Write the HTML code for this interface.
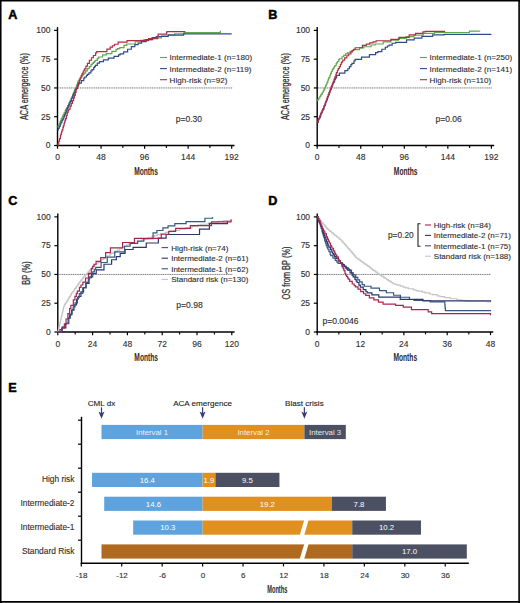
<!DOCTYPE html><html><head><meta charset="utf-8"><style>html,body{margin:0;padding:0;background:#fff;overflow:hidden;}svg{display:block;}</style></head><body>
<svg width="520" height="603" viewBox="0 0 520 603" font-family='"Liberation Sans", sans-serif'>
<rect x="0" y="0" width="520" height="603" fill="#fff"/>
<text x="8.2" y="18.9" font-size="12.6" text-anchor="start" fill="#000" font-weight="bold" stroke="#000" stroke-width="0.5">A</text>
<text x="268.2" y="18.9" font-size="12.6" text-anchor="start" fill="#000" font-weight="bold" stroke="#000" stroke-width="0.5">B</text>
<text x="8.2" y="205" font-size="12.6" text-anchor="start" fill="#000" font-weight="bold" stroke="#000" stroke-width="0.5">C</text>
<text x="268.2" y="205" font-size="12.6" text-anchor="start" fill="#000" font-weight="bold" stroke="#000" stroke-width="0.5">D</text>
<text x="8.2" y="392" font-size="12.6" text-anchor="start" fill="#000" font-weight="bold" stroke="#000" stroke-width="0.5">E</text>
<path d="M57.5 146.2 L57.5 27.1" stroke="#000" stroke-width="1.4" fill="none" />
<path d="M56.8 145.5 L234.5 145.5" stroke="#000" stroke-width="1.4" fill="none" />
<path d="M54.1 145.5 L57.5 145.5" stroke="#000" stroke-width="1.2" fill="none" />
<text x="50.4" y="148.3" font-size="8.5" text-anchor="end" fill="#2e2e2e" font-weight="normal"  stroke="#2e2e2e" stroke-width="0.12">0</text>
<path d="M54.1 116.72 L57.5 116.72" stroke="#000" stroke-width="1.2" fill="none" />
<text x="50.4" y="119.52" font-size="8.5" text-anchor="end" fill="#2e2e2e" font-weight="normal"  stroke="#2e2e2e" stroke-width="0.12">25</text>
<path d="M54.1 87.95 L57.5 87.95" stroke="#000" stroke-width="1.2" fill="none" />
<text x="50.4" y="90.75" font-size="8.5" text-anchor="end" fill="#2e2e2e" font-weight="normal"  stroke="#2e2e2e" stroke-width="0.12">50</text>
<path d="M54.1 59.17 L57.5 59.17" stroke="#000" stroke-width="1.2" fill="none" />
<text x="50.4" y="61.97" font-size="8.5" text-anchor="end" fill="#2e2e2e" font-weight="normal"  stroke="#2e2e2e" stroke-width="0.12">75</text>
<path d="M54.1 30.4 L57.5 30.4" stroke="#000" stroke-width="1.2" fill="none" />
<text x="50.4" y="33.2" font-size="8.5" text-anchor="end" fill="#2e2e2e" font-weight="normal"  stroke="#2e2e2e" stroke-width="0.12">100</text>
<path d="M57.5 145.5 L57.5 148.7" stroke="#000" stroke-width="1.2" fill="none" />
<text x="57.5" y="160" font-size="8.5" text-anchor="middle" fill="#2e2e2e" font-weight="normal"  stroke="#2e2e2e" stroke-width="0.12">0</text>
<path d="M101.05 145.5 L101.05 148.7" stroke="#000" stroke-width="1.2" fill="none" />
<text x="101.05" y="160" font-size="8.5" text-anchor="middle" fill="#2e2e2e" font-weight="normal"  stroke="#2e2e2e" stroke-width="0.12">48</text>
<path d="M144.6 145.5 L144.6 148.7" stroke="#000" stroke-width="1.2" fill="none" />
<text x="144.6" y="160" font-size="8.5" text-anchor="middle" fill="#2e2e2e" font-weight="normal"  stroke="#2e2e2e" stroke-width="0.12">96</text>
<path d="M188.15 145.5 L188.15 148.7" stroke="#000" stroke-width="1.2" fill="none" />
<text x="188.15" y="160" font-size="8.5" text-anchor="middle" fill="#2e2e2e" font-weight="normal"  stroke="#2e2e2e" stroke-width="0.12">144</text>
<path d="M231.7 145.5 L231.7 148.7" stroke="#000" stroke-width="1.2" fill="none" />
<text x="231.7" y="160" font-size="8.5" text-anchor="middle" fill="#2e2e2e" font-weight="normal"  stroke="#2e2e2e" stroke-width="0.12">192</text>
<path d="M79.28 145.5 L79.28 147.9" stroke="#000" stroke-width="1.1" fill="none" />
<path d="M122.82 145.5 L122.82 147.9" stroke="#000" stroke-width="1.1" fill="none" />
<path d="M166.38 145.5 L166.38 147.9" stroke="#000" stroke-width="1.1" fill="none" />
<path d="M209.92 145.5 L209.92 147.9" stroke="#000" stroke-width="1.1" fill="none" />
<path d="M58.2 87.95 L232.2 87.95" stroke="#6a6a6a" stroke-width="0.9" fill="none" stroke-dasharray="1.2 0.6"/>
<text x="146" y="174.8" font-size="10.4" text-anchor="middle" fill="#2a2a2a" font-weight="bold" textLength="23.7" lengthAdjust="spacingAndGlyphs">Months</text>
<text transform="translate(28.4 86.55) rotate(-90)" x="0" y="0" font-size="10" text-anchor="middle" fill="#2a2a2a" stroke="#2a2a2a" stroke-width="0.22" textLength="67" lengthAdjust="spacingAndGlyphs">ACA emergence (%)</text>
<path d="M57.5 127.08 L58.18 127.08 L58.18 125.6 L58.95 125.6 L58.95 123.92 L59.95 123.92 L59.95 121.74 L60.63 121.74 L60.63 120.26 L61.36 120.26 L61.36 118.68 L62.13 118.68 L62.13 116.99 L62.63 116.99 L62.63 115.91 L63.35 115.91 L63.35 114.33 L64.21 114.33 L64.21 112.61 L65.21 112.61 L65.21 110.62 L65.67 110.62 L65.67 109.71 L66.3 109.71 L66.3 108.44 L66.75 108.44 L66.75 107.53 L67.75 107.53 L67.75 105.54 L68.66 105.54 L68.66 103.73 L69.07 103.73 L69.07 102.91 L70.2 102.91 L70.2 100.65 L71.2 100.65 L71.2 98.42 L71.97 98.42 L71.97 96.61 L72.7 96.61 L72.7 94.9 L73.15 94.9 L73.15 93.83 L73.51 93.83 L73.51 92.97 L74.19 92.97 L74.19 91.37 L74.56 91.37 L74.56 90.52 L75.01 90.52 L75.01 89.45 L75.51 89.45 L75.51 88.27 L75.83 88.27 L75.83 87.43 L76.37 87.43 L76.37 85.89 L76.87 85.89 L76.87 84.47 L77.6 84.47 L77.6 82.4 L78.14 82.4 L78.14 80.86 L79.32 80.86 L79.32 79.09 L80.5 79.09 L80.5 77.54 L81.86 77.54 L81.86 75.74 L82.95 75.74 L82.95 74.31 L83.86 74.31 L83.86 73.11 L85.58 73.11 L85.58 70.84 L87.3 70.84 L87.3 68.56 L89.26 68.56 L89.26 66.54 L91.07 66.54 L91.07 64.71 L92.29 64.71 L92.29 63.47 L93.38 63.47 L93.38 62.36 L94.56 62.36 L94.56 61.17 L95.42 61.17 L95.42 60.3 L97.33 60.3 L97.33 58.37 L98.69 58.37 L98.69 56.99 L102.64 56.99 L102.64 54.97 L106.36 54.97 L106.36 53.63 L111.85 53.63 L111.85 51.43 L116.02 51.43 L116.02 49.4 L117.56 49.4 L117.56 48.65 L119.79 48.65 L119.79 47.57 L123.96 47.57 L123.96 45.44 L126.77 45.44 L126.77 43.98 L135.16 43.98 L135.16 41.76 L140.65 41.76 L140.65 40.41 L144.01 40.41 L144.01 39.54 L151.4 39.54 L151.4 37.85 L161.48 37.85 L161.48 35.94 L168.05 35.94 L168.05 34.78 L174.68 34.78 L174.68 33.9 L184.07 33.9 L184.07 32.65 L220.36 32.65 L220.36 30.86 L220.36 30.86" stroke="#5fa84e" stroke-width="1.2" fill="none"/>
<path d="M57.5 129.96 L58.32 129.96 L58.32 128.26 L59.31 128.26 L59.31 126.18 L60.31 126.18 L60.31 124.11 L60.86 124.11 L60.86 122.97 L61.31 122.97 L61.31 122.03 L62.04 122.03 L62.04 120.52 L62.72 120.52 L62.72 119.1 L63.76 119.1 L63.76 116.79 L64.62 116.79 L64.62 114.73 L65.44 114.73 L65.44 112.78 L66.21 112.78 L66.21 110.94 L67.07 110.94 L67.07 108.88 L67.57 108.88 L67.57 107.69 L68.25 107.69 L68.25 106.07 L68.75 106.07 L68.75 104.88 L69.79 104.88 L69.79 102.42 L70.25 102.42 L70.25 101.39 L71.29 101.39 L71.29 99.01 L71.74 99.01 L71.74 97.98 L72.65 97.98 L72.65 95.92 L73.29 95.92 L73.29 94.47 L74.01 94.47 L74.01 92.82 L75.06 92.82 L75.06 90.44 L75.46 90.44 L75.46 89.51 L76.01 89.51 L76.01 88.49 L77.46 88.49 L77.46 86.03 L78.5 86.03 L78.5 84.27 L79.14 84.27 L79.14 83.19 L81.32 83.19 L81.32 80.58 L83.81 80.58 L83.81 78.05 L84.85 78.05 L84.85 76.99 L86.44 76.99 L86.44 75.38 L87.53 75.38 L87.53 74.28 L88.94 74.28 L88.94 72.85 L90.89 72.85 L90.89 70.87 L92.02 70.87 L92.02 69.71 L93.7 69.71 L93.7 67.61 L94.47 67.61 L94.47 66.65 L95.42 66.65 L95.42 65.46 L97.28 65.46 L97.28 63.13 L99.51 63.13 L99.51 61.57 L103.41 61.57 L103.41 59.97 L108.31 59.97 L108.31 58.07 L114.02 58.07 L114.02 56.39 L118.52 56.39 L118.52 54.86 L120.06 54.86 L120.06 53.93 L123.64 53.93 L123.64 51.8 L127.63 51.8 L127.63 49.24 L131.4 49.24 L131.4 46.67 L134.85 46.67 L134.85 44.65 L138.16 44.65 L138.16 43.16 L141.52 43.16 L141.52 41.65 L146.14 41.65 L146.14 39.58 L152.77 39.58 L152.77 37.55 L156.26 37.55 L156.26 36.48 L168.19 36.48 L168.19 35.2 L183.61 35.2 L183.61 33.85 L231.7 33.85" stroke="#2f4c8a" stroke-width="1.2" fill="none"/>
<path d="M57.5 145.5 L58 145.5 L58 143.83 L58.77 143.83 L58.77 141.26 L59.54 141.26 L59.54 138.68 L60.4 138.68 L60.4 135.8 L60.86 135.8 L60.86 134.28 L61.31 134.28 L61.31 132.77 L61.72 132.77 L61.72 131.4 L62.17 131.4 L62.17 129.89 L62.94 129.89 L62.94 127.31 L63.35 127.31 L63.35 125.95 L64.03 125.95 L64.03 123.68 L64.49 123.68 L64.49 122.16 L64.99 122.16 L64.99 120.5 L65.57 120.5 L65.57 118.53 L66.44 118.53 L66.44 115.65 L67.16 115.65 L67.16 113.22 L67.53 113.22 L67.53 112.15 L68.25 112.15 L68.25 110.45 L68.84 110.45 L68.84 109.08 L70.07 109.08 L70.07 106.22 L71.25 106.22 L71.25 103.46 L72.42 103.46 L72.42 100.71 L73.6 100.71 L73.6 97.95 L74.38 97.95 L74.38 95.37 L75.28 95.37 L75.28 92.28 L76.1 92.28 L76.1 89.5 L76.6 89.5 L76.6 87.82 L77.64 87.82 L77.64 84.91 L78.41 84.91 L78.41 82.75 L79.37 82.75 L79.37 80.08 L80.18 80.08 L80.18 77.8 L81.04 77.8 L81.04 75.79 L81.95 75.79 L81.95 73.97 L82.95 73.97 L82.95 71.98 L83.81 71.98 L83.81 70.25 L84.49 70.25 L84.49 68.89 L85.9 68.89 L85.9 66.08 L87.44 66.08 L87.44 63.38 L89.35 63.38 L89.35 60.25 L91.48 60.25 L91.48 57.74 L93.38 57.74 L93.38 55.51 L95.61 55.51 L95.61 52.9 L96.74 52.9 L96.74 51.57 L106.95 51.57 L106.95 49.13 L110.21 49.13 L110.21 47.16 L112.44 47.16 L112.44 45.75 L114.52 45.75 L114.52 44.27 L118.11 44.27 L118.11 42.15 L127.04 42.15 L127.04 40.58 L148.55 40.58 L148.55 38.6 L157.76 38.6 L157.76 36.21 L158.16 36.21 L158.16 34.19 L166.6 34.19 L166.6 32.7 L166.83 32.7 L166.83 31.55 L185.43 31.55" stroke="#b02e45" stroke-width="1.2" fill="none"/>
<path d="M160 57.5 L167 57.5" stroke="#5fa84e" stroke-width="1.1" fill="none" />
<text x="169.6" y="60.4" font-size="8.1" text-anchor="start" fill="#2e2e2e" font-weight="normal"  stroke="#2e2e2e" stroke-width="0.12">Intermediate-1 (n=180)</text>
<path d="M160 68.6 L167 68.6" stroke="#2f4c8a" stroke-width="1.1" fill="none" />
<text x="169.6" y="71.5" font-size="8.1" text-anchor="start" fill="#2e2e2e" font-weight="normal"  stroke="#2e2e2e" stroke-width="0.12">Intermediate-2 (n=119)</text>
<path d="M160 79.7 L167 79.7" stroke="#b02e45" stroke-width="1.1" fill="none" />
<text x="169.6" y="82.6" font-size="8.1" text-anchor="start" fill="#2e2e2e" font-weight="normal"  stroke="#2e2e2e" stroke-width="0.12">High-risk (n=92)</text>
<text x="175.8" y="121.6" font-size="8.5" text-anchor="start" fill="#2e2e2e" font-weight="normal"  stroke="#2e2e2e" stroke-width="0.12">p=0.30</text>
<path d="M317.2 146.2 L317.2 27.1" stroke="#000" stroke-width="1.4" fill="none" />
<path d="M316.5 145.5 L494.2 145.5" stroke="#000" stroke-width="1.4" fill="none" />
<path d="M313.8 145.5 L317.2 145.5" stroke="#000" stroke-width="1.2" fill="none" />
<text x="310.1" y="148.3" font-size="8.5" text-anchor="end" fill="#2e2e2e" font-weight="normal"  stroke="#2e2e2e" stroke-width="0.12">0</text>
<path d="M313.8 116.72 L317.2 116.72" stroke="#000" stroke-width="1.2" fill="none" />
<text x="310.1" y="119.52" font-size="8.5" text-anchor="end" fill="#2e2e2e" font-weight="normal"  stroke="#2e2e2e" stroke-width="0.12">25</text>
<path d="M313.8 87.95 L317.2 87.95" stroke="#000" stroke-width="1.2" fill="none" />
<text x="310.1" y="90.75" font-size="8.5" text-anchor="end" fill="#2e2e2e" font-weight="normal"  stroke="#2e2e2e" stroke-width="0.12">50</text>
<path d="M313.8 59.17 L317.2 59.17" stroke="#000" stroke-width="1.2" fill="none" />
<text x="310.1" y="61.97" font-size="8.5" text-anchor="end" fill="#2e2e2e" font-weight="normal"  stroke="#2e2e2e" stroke-width="0.12">75</text>
<path d="M313.8 30.4 L317.2 30.4" stroke="#000" stroke-width="1.2" fill="none" />
<text x="310.1" y="33.2" font-size="8.5" text-anchor="end" fill="#2e2e2e" font-weight="normal"  stroke="#2e2e2e" stroke-width="0.12">100</text>
<path d="M317.2 145.5 L317.2 148.7" stroke="#000" stroke-width="1.2" fill="none" />
<text x="317.2" y="160" font-size="8.5" text-anchor="middle" fill="#2e2e2e" font-weight="normal"  stroke="#2e2e2e" stroke-width="0.12">0</text>
<path d="M360.75 145.5 L360.75 148.7" stroke="#000" stroke-width="1.2" fill="none" />
<text x="360.75" y="160" font-size="8.5" text-anchor="middle" fill="#2e2e2e" font-weight="normal"  stroke="#2e2e2e" stroke-width="0.12">48</text>
<path d="M404.3 145.5 L404.3 148.7" stroke="#000" stroke-width="1.2" fill="none" />
<text x="404.3" y="160" font-size="8.5" text-anchor="middle" fill="#2e2e2e" font-weight="normal"  stroke="#2e2e2e" stroke-width="0.12">96</text>
<path d="M447.85 145.5 L447.85 148.7" stroke="#000" stroke-width="1.2" fill="none" />
<text x="447.85" y="160" font-size="8.5" text-anchor="middle" fill="#2e2e2e" font-weight="normal"  stroke="#2e2e2e" stroke-width="0.12">144</text>
<path d="M491.4 145.5 L491.4 148.7" stroke="#000" stroke-width="1.2" fill="none" />
<text x="491.4" y="160" font-size="8.5" text-anchor="middle" fill="#2e2e2e" font-weight="normal"  stroke="#2e2e2e" stroke-width="0.12">192</text>
<path d="M338.97 145.5 L338.97 147.9" stroke="#000" stroke-width="1.1" fill="none" />
<path d="M382.52 145.5 L382.52 147.9" stroke="#000" stroke-width="1.1" fill="none" />
<path d="M426.07 145.5 L426.07 147.9" stroke="#000" stroke-width="1.1" fill="none" />
<path d="M469.62 145.5 L469.62 147.9" stroke="#000" stroke-width="1.1" fill="none" />
<path d="M317.9 87.95 L491.9 87.95" stroke="#6a6a6a" stroke-width="0.9" fill="none" stroke-dasharray="1.2 0.6"/>
<text x="405.7" y="174.8" font-size="10.4" text-anchor="middle" fill="#2a2a2a" font-weight="bold" textLength="23.7" lengthAdjust="spacingAndGlyphs">Months</text>
<text transform="translate(288.6 86.55) rotate(-90)" x="0" y="0" font-size="10" text-anchor="middle" fill="#2a2a2a" stroke="#2a2a2a" stroke-width="0.22" textLength="67" lengthAdjust="spacingAndGlyphs">ACA emergence (%)</text>
<path d="M317.2 100.61 L317.79 100.61 L317.79 99.68 L318.83 99.68 L318.83 98.02 L319.83 98.02 L319.83 96.44 L320.69 96.44 L320.69 95.07 L321.28 95.07 L321.28 94.07 L322.33 94.07 L322.33 92.27 L323.41 92.27 L323.41 90.38 L324.23 90.38 L324.23 88.97 L325 88.97 L325 87.5 L325.41 87.5 L325.41 86.47 L325.73 86.47 L325.73 85.68 L326.23 85.68 L326.23 84.43 L326.86 84.43 L326.86 82.84 L327.18 82.84 L327.18 82.04 L327.91 82.04 L327.91 80.23 L328.31 80.23 L328.31 79.2 L328.72 79.2 L328.72 78.18 L329.04 78.18 L329.04 77.39 L329.9 77.39 L329.9 75.23 L330.63 75.23 L330.63 73.41 L331.4 73.41 L331.4 71.48 L332.22 71.48 L332.22 69.89 L332.71 69.89 L332.71 69.1 L333.44 69.1 L333.44 67.95 L334.35 67.95 L334.35 66.51 L334.89 66.51 L334.89 65.65 L336.16 65.65 L336.16 63.64 L336.93 63.64 L336.93 62.41 L337.52 62.41 L337.52 61.48 L338.7 61.48 L338.7 59.61 L339.52 59.61 L339.52 58.74 L342.01 58.74 L342.01 56.77 L343.69 56.77 L343.69 55.43 L345.55 55.43 L345.55 53.96 L347.5 53.96 L347.5 52.78 L350.23 52.78 L350.23 51.39 L352.13 51.39 L352.13 50.43 L353.63 50.43 L353.63 49.67 L359.57 49.67 L359.57 47.78 L363.79 47.78 L363.79 46.76 L371.09 46.76 L371.09 44.98 L375.13 44.98 L375.13 44 L383.21 44 L383.21 41.97 L390.83 41.97 L390.83 40.03 L398.36 40.03 L398.36 38.3 L406.16 38.3 L406.16 36.55 L413.92 36.55 L413.92 35.05 L423.17 35.05 L423.17 33.35 L434.51 33.35 L434.51 32.49 L469.4 32.49 L469.4 31.14 L479.61 31.14 L479.61 30.75 L479.61 30.75" stroke="#5fa84e" stroke-width="1.2" fill="none"/>
<path d="M317.2 122.48 L318.29 122.48 L318.29 119.89 L318.79 119.89 L318.79 118.7 L319.2 118.7 L319.2 117.73 L320.28 117.73 L320.28 115.14 L320.78 115.14 L320.78 113.96 L321.24 113.96 L321.24 112.88 L322.1 112.88 L322.1 110.83 L322.73 110.83 L322.73 109.32 L323.78 109.32 L323.78 106.83 L324.32 106.83 L324.32 105.54 L325.27 105.54 L325.27 103 L325.82 103 L325.82 101.52 L326.55 101.52 L326.55 99.54 L327.5 99.54 L327.5 96.95 L328.27 96.95 L328.27 94.86 L329.18 94.86 L329.18 92.39 L329.95 92.39 L329.95 90.29 L330.31 90.29 L330.31 89.31 L331.31 89.31 L331.31 86.86 L332.22 86.86 L332.22 84.89 L332.9 84.89 L332.9 83.41 L333.49 83.41 L333.49 82.13 L334.57 82.13 L334.57 79.76 L335.44 79.76 L335.44 77.89 L336.62 77.89 L336.62 75.32 L339.38 75.32 L339.38 73.11 L344.87 73.11 L344.87 70.58 L347.78 70.58 L347.78 68.73 L349.41 68.73 L349.41 66.66 L350.95 66.66 L350.95 64.7 L351.99 64.7 L351.99 63.38 L353.99 63.38 L353.99 60.84 L355.12 60.84 L355.12 59.41 L361.52 59.41 L361.52 57.19 L369.41 57.19 L369.41 54.66 L375.63 54.66 L375.63 52.67 L377.81 52.67 L377.81 51.56 L381.8 51.56 L381.8 49.25 L385.29 49.25 L385.29 47.23 L387.38 47.23 L387.38 46.02 L389.06 46.02 L389.06 45.05 L392.14 45.05 L392.14 43.27 L395.68 43.27 L395.68 42.34 L406.57 42.34 L406.57 39.87 L414.19 39.87 L414.19 38.13 L421.9 38.13 L421.9 36.37 L432.7 36.37 L432.7 34.8 L444.22 34.8 L444.22 34.31 L491.4 34.31" stroke="#2f4c8a" stroke-width="1.2" fill="none"/>
<path d="M317.2 121.56 L318.38 121.56 L318.38 118.9 L319.6 118.9 L319.6 116.15 L320.78 116.15 L320.78 113.49 L321.28 113.49 L321.28 112.37 L322.19 112.37 L322.19 110.32 L322.96 110.32 L322.96 108.59 L323.82 108.59 L323.82 106.65 L324.37 106.65 L324.37 105.42 L324.87 105.42 L324.87 104.11 L325.55 104.11 L325.55 102.26 L326.05 102.26 L326.05 100.9 L326.73 100.9 L326.73 99.05 L327.09 99.05 L327.09 98.06 L327.5 98.06 L327.5 96.95 L328.36 96.95 L328.36 94.61 L328.99 94.61 L328.99 92.88 L329.72 92.88 L329.72 90.91 L330.58 90.91 L330.58 88.57 L331.17 88.57 L331.17 86.96 L331.58 86.96 L331.58 85.85 L332.49 85.85 L332.49 83.39 L333.26 83.39 L333.26 81.29 L334.08 81.29 L334.08 79.07 L334.85 79.07 L334.85 76.97 L335.84 76.97 L335.84 74.26 L336.43 74.26 L336.43 72.66 L337.39 72.66 L337.39 70.26 L338.25 70.26 L338.25 68.62 L339.29 68.62 L339.29 66.65 L340.43 66.65 L340.43 64.5 L341.24 64.5 L341.24 62.95 L341.83 62.95 L341.83 61.84 L342.79 61.84 L342.79 60.03 L344.69 60.03 L344.69 57.79 L346.82 57.79 L346.82 55.76 L348.68 55.76 L348.68 53.98 L350.91 53.98 L350.91 51.86 L352.27 51.86 L352.27 50.56 L353.58 50.56 L353.58 49.31 L355.22 49.31 L355.22 47.75 L362.38 47.75 L362.38 45.32 L366.28 45.32 L366.28 44.03 L369.73 44.03 L369.73 42.89 L373.09 42.89 L373.09 41.78 L376.13 41.78 L376.13 40.77 L390.92 40.77 L390.92 39.34 L399.13 39.34 L399.13 37.36 L409.2 37.36 L409.2 34.92 L415.55 34.92 L415.55 33.39 L422.94 33.39 L422.94 31.78 L425.17 31.78 L425.17 31.32 L445.13 31.32" stroke="#b02e45" stroke-width="1.2" fill="none"/>
<path d="M420 57.5 L427 57.5" stroke="#5fa84e" stroke-width="1.1" fill="none" />
<text x="429.6" y="60.4" font-size="8.1" text-anchor="start" fill="#2e2e2e" font-weight="normal"  stroke="#2e2e2e" stroke-width="0.12">Intermediate-1 (n=250)</text>
<path d="M420 68.6 L427 68.6" stroke="#2f4c8a" stroke-width="1.1" fill="none" />
<text x="429.6" y="71.5" font-size="8.1" text-anchor="start" fill="#2e2e2e" font-weight="normal"  stroke="#2e2e2e" stroke-width="0.12">Intermediate-2 (n=141)</text>
<path d="M420 79.7 L427 79.7" stroke="#b02e45" stroke-width="1.1" fill="none" />
<text x="429.6" y="82.6" font-size="8.1" text-anchor="start" fill="#2e2e2e" font-weight="normal"  stroke="#2e2e2e" stroke-width="0.12">High-risk (n=110)</text>
<text x="435.5" y="121.6" font-size="8.5" text-anchor="start" fill="#2e2e2e" font-weight="normal"  stroke="#2e2e2e" stroke-width="0.12">p=0.06</text>
<path d="M57.8 332.7 L57.8 213.6" stroke="#000" stroke-width="1.4" fill="none" />
<path d="M57.1 332 L234.6 332" stroke="#000" stroke-width="1.4" fill="none" />
<path d="M54.4 332 L57.8 332" stroke="#000" stroke-width="1.2" fill="none" />
<text x="50.7" y="334.8" font-size="8.5" text-anchor="end" fill="#2e2e2e" font-weight="normal"  stroke="#2e2e2e" stroke-width="0.12">0</text>
<path d="M54.4 303.23 L57.8 303.23" stroke="#000" stroke-width="1.2" fill="none" />
<text x="50.7" y="306.03" font-size="8.5" text-anchor="end" fill="#2e2e2e" font-weight="normal"  stroke="#2e2e2e" stroke-width="0.12">25</text>
<path d="M54.4 274.45 L57.8 274.45" stroke="#000" stroke-width="1.2" fill="none" />
<text x="50.7" y="277.25" font-size="8.5" text-anchor="end" fill="#2e2e2e" font-weight="normal"  stroke="#2e2e2e" stroke-width="0.12">50</text>
<path d="M54.4 245.68 L57.8 245.68" stroke="#000" stroke-width="1.2" fill="none" />
<text x="50.7" y="248.48" font-size="8.5" text-anchor="end" fill="#2e2e2e" font-weight="normal"  stroke="#2e2e2e" stroke-width="0.12">75</text>
<path d="M54.4 216.9 L57.8 216.9" stroke="#000" stroke-width="1.2" fill="none" />
<text x="50.7" y="219.7" font-size="8.5" text-anchor="end" fill="#2e2e2e" font-weight="normal"  stroke="#2e2e2e" stroke-width="0.12">100</text>
<path d="M57.8 332 L57.8 335.2" stroke="#000" stroke-width="1.2" fill="none" />
<text x="57.8" y="346.5" font-size="8.5" text-anchor="middle" fill="#2e2e2e" font-weight="normal"  stroke="#2e2e2e" stroke-width="0.12">0</text>
<path d="M92.6 332 L92.6 335.2" stroke="#000" stroke-width="1.2" fill="none" />
<text x="92.6" y="346.5" font-size="8.5" text-anchor="middle" fill="#2e2e2e" font-weight="normal"  stroke="#2e2e2e" stroke-width="0.12">24</text>
<path d="M127.4 332 L127.4 335.2" stroke="#000" stroke-width="1.2" fill="none" />
<text x="127.4" y="346.5" font-size="8.5" text-anchor="middle" fill="#2e2e2e" font-weight="normal"  stroke="#2e2e2e" stroke-width="0.12">48</text>
<path d="M162.2 332 L162.2 335.2" stroke="#000" stroke-width="1.2" fill="none" />
<text x="162.2" y="346.5" font-size="8.5" text-anchor="middle" fill="#2e2e2e" font-weight="normal"  stroke="#2e2e2e" stroke-width="0.12">72</text>
<path d="M197 332 L197 335.2" stroke="#000" stroke-width="1.2" fill="none" />
<text x="197" y="346.5" font-size="8.5" text-anchor="middle" fill="#2e2e2e" font-weight="normal"  stroke="#2e2e2e" stroke-width="0.12">96</text>
<path d="M231.8 332 L231.8 335.2" stroke="#000" stroke-width="1.2" fill="none" />
<text x="231.8" y="346.5" font-size="8.5" text-anchor="middle" fill="#2e2e2e" font-weight="normal"  stroke="#2e2e2e" stroke-width="0.12">120</text>
<path d="M75.2 332 L75.2 334.4" stroke="#000" stroke-width="1.1" fill="none" />
<path d="M110 332 L110 334.4" stroke="#000" stroke-width="1.1" fill="none" />
<path d="M144.8 332 L144.8 334.4" stroke="#000" stroke-width="1.1" fill="none" />
<path d="M179.6 332 L179.6 334.4" stroke="#000" stroke-width="1.1" fill="none" />
<path d="M214.4 332 L214.4 334.4" stroke="#000" stroke-width="1.1" fill="none" />
<path d="M58.5 274.45 L232.3 274.45" stroke="#6a6a6a" stroke-width="0.9" fill="none" stroke-dasharray="1.2 0.6"/>
<text x="146.2" y="361.3" font-size="10.4" text-anchor="middle" fill="#2a2a2a" font-weight="bold" textLength="23.7" lengthAdjust="spacingAndGlyphs">Months</text>
<text transform="translate(29.8 273.05) rotate(-90)" x="0" y="0" font-size="10" text-anchor="middle" fill="#2a2a2a" stroke="#2a2a2a" stroke-width="0.22" textLength="23.5" lengthAdjust="spacingAndGlyphs">BP (%)</text>
<path d="M57.8 332 L57.95 332 L57.95 331.38 L58.16 331.38 L58.16 330.46 L58.45 330.46 L58.45 329.23 L58.74 329.23 L58.74 328 L58.96 328 L58.96 327.07 L59.18 327.07 L59.18 326.15 L59.39 326.15 L59.39 325.23 L59.76 325.23 L59.76 323.69 L59.97 323.69 L59.97 322.77 L60.34 322.77 L60.34 321.23 L60.63 321.23 L60.63 319.99 L60.84 319.99 L60.84 319.07 L61.13 319.07 L61.13 317.84 L61.42 317.84 L61.42 316.61 L61.71 316.61 L61.71 315.38 L62.15 315.38 L62.15 313.53 L62.29 313.53 L62.29 312.91 L62.44 312.91 L62.44 312.3 L62.8 312.3 L62.8 310.76 L63.09 310.76 L63.09 309.53 L63.31 309.53 L63.31 308.61 L63.53 308.61 L63.53 307.68 L63.74 307.68 L63.74 306.76 L64.25 306.76 L64.25 305.17 L64.76 305.17 L64.76 304.33 L65.27 304.33 L65.27 303.5 L65.99 303.5 L65.99 302.3 L66.72 302.3 L66.72 301.11 L67.66 301.11 L67.66 299.55 L68.53 299.55 L68.53 298.12 L69.11 298.12 L69.11 297.17 L69.62 297.17 L69.62 296.33 L70.49 296.33 L70.49 294.9 L71.43 294.9 L71.43 293.34 L71.79 293.34 L71.79 292.77 L72.74 292.77 L72.74 291.48 L73.82 291.48 L73.82 289.99 L74.77 289.99 L74.77 288.69 L75.35 288.69 L75.35 287.9 L76.36 287.9 L76.36 286.51 L77.3 286.51 L77.3 285.22 L77.88 285.22 L77.88 284.42 L78.75 284.42 L78.75 283.23 L79.33 283.23 L79.33 282.44 L79.77 282.44 L79.77 281.84 L80.42 281.84 L80.42 280.94 L81.07 280.94 L81.07 280.05 L81.8 280.05 L81.8 279.06 L82.67 279.06 L82.67 277.87 L83.68 277.87 L83.68 276.47 L85.06 276.47 L85.06 274.93 L86.51 274.93 L86.51 273.36 L87.96 273.36 L87.96 271.8 L89.27 271.8 L89.27 270.4 L90.06 270.4 L90.06 269.54 L90.72 269.54 L90.72 268.83 L91.8 268.83 L91.8 267.66 L92.82 267.66 L92.82 266.57 L93.98 266.57 L93.98 265.32 L94.85 265.32 L94.85 264.67 L95.86 264.67 L95.86 263.95 L97.97 263.95 L97.97 262.45 L99.63 262.45 L99.63 261.25 L101.37 261.25 L101.37 260.01 L102.24 260.01 L102.24 259.39 L103.55 259.39 L103.55 258.46 L105.65 258.46 L105.65 256.95 L107.32 256.95 L107.32 255.76 L109.78 255.76 L109.78 254.21 L111.16 254.21 L111.16 253.45 L112.97 253.45 L112.97 252.45 L115.44 252.45 L115.44 251.1 L117.25 251.1 L117.25 250.1 L119.71 250.1 L119.71 248.75 L121.74 248.75 L121.74 247.63 L122.98 247.63 L122.98 246.95 L124.14 246.95 L124.14 246.32 L126.96 246.32 L126.96 244.76 L128.63 244.76 L128.63 244.12 L130.81 244.12 L130.81 243.4 L133.49 243.4 L133.49 242.51 L137.33 242.51 L137.33 241.24 L141.61 241.24 L141.61 239.82 L144.73 239.82 L144.73 238.79 L147.92 238.79 L147.92 237.74 L151.98 237.74 L151.98 236.4 L154.44 236.4 L154.44 235.58 L157.2 235.58 L157.2 234.67 L160.75 234.67 L160.75 233.49 L165.39 233.49 L165.39 232.31 L167.93 232.31 L167.93 231.75 L170.83 231.75 L170.83 231.11 L173.87 231.11 L173.87 230.44 L179.67 230.44 L179.67 229.16 L185.33 229.16 L185.33 227.91 L192 227.91 L192 226.38 L197.58 226.38 L197.58 225.05 L200.91 225.05 L200.91 224.25 L208.24 224.25 L208.24 222.94 L217.95 222.94 L217.95 221.4 L223.53 221.4 L223.53 220.51 L231.8 220.51 L231.8 220.35 L231.8 220.35" stroke="#c4c4c4" stroke-width="1.2" fill="none"/>
<path d="M57.8 332 L62.22 332 L62.22 327.79 L65.85 327.79 L65.85 323.28 L68.17 323.28 L68.17 318 L69.54 318 L69.54 314.86 L71.58 314.86 L71.58 310.24 L73.97 310.24 L73.97 304.79 L76.51 304.79 L76.51 299.27 L78.17 299.27 L78.17 296.48 L80.93 296.48 L80.93 291.85 L83.54 291.85 L83.54 287.48 L85.79 287.48 L85.79 283.52 L89.05 283.52 L89.05 277.76 L91.37 277.76 L91.37 273.66 L96.23 273.66 L96.23 269.92 L103.98 269.92 L103.98 264.23 L111.6 264.23 L111.6 259.77 L116.31 259.77 L116.31 256.63 L120.22 256.63 L120.22 253.45 L125.08 253.45 L125.08 249.5 L133.13 249.5 L133.13 247.32 L146.25 247.32 L146.25 242.98 L158.36 242.98 L158.36 238.13 L166.11 238.13 L166.11 234.5 L199.54 234.5 L199.54 229.22 L209.4 229.22 L209.4 223.63 L227.45 223.63 L227.45 221.04 L227.45 221.04" stroke="#2e3670" stroke-width="1.2" fill="none"/>
<path d="M57.8 332 L59.83 332 L59.83 329.7 L62.29 329.7 L62.29 326.9 L65.12 326.9 L65.12 323.7 L68.82 323.7 L68.82 318.19 L70.34 318.19 L70.34 314.16 L72.16 314.16 L72.16 309.36 L73.24 309.36 L73.24 306.89 L75.06 306.89 L75.06 302.86 L77.45 302.86 L77.45 297.54 L79.26 297.54 L79.26 293.51 L82.74 293.51 L82.74 287.8 L86.15 287.8 L86.15 282.39 L88.32 282.39 L88.32 278.94 L89.63 278.94 L89.63 276.87 L92.75 276.87 L92.75 271.92 L94.34 271.92 L94.34 269.39 L95.72 269.39 L95.72 267.35 L101.08 267.35 L101.08 262.48 L107.25 262.48 L107.25 257.21 L114.71 257.21 L114.71 251.94 L124.5 251.94 L124.5 246.25 L130.08 246.25 L130.08 243.48 L137.62 243.48 L137.62 241.19 L143.78 241.19 L143.78 238.74 L153.06 238.74 L153.06 232.91 L156.91 232.91 L156.91 230.5 L162.92 230.5 L162.92 227.89 L168.07 227.89 L168.07 225.85 L174.81 225.85 L174.81 223.7 L186.05 223.7 L186.05 221.58 L204.9 221.58 L204.9 218.24 L212.51 218.24 L212.51 216.9 L212.51 216.9" stroke="#34597f" stroke-width="1.2" fill="none"/>
<path d="M57.8 332 L61.64 332 L61.64 328.19 L64.32 328.19 L64.32 324.12 L66.06 324.12 L66.06 319.01 L67.88 319.01 L67.88 313.7 L69.62 313.7 L69.62 308.59 L70.85 308.59 L70.85 305.4 L73.32 305.4 L73.32 299.96 L74.91 299.96 L74.91 296.45 L76.29 296.45 L76.29 293.41 L77.3 293.41 L77.3 291.17 L79.41 291.17 L79.41 287.42 L81 287.42 L81 284.99 L82.89 284.99 L82.89 282.11 L85.57 282.11 L85.57 278.01 L88.47 278.01 L88.47 273.28 L91.3 273.28 L91.3 268.66 L92.67 268.66 L92.67 266.41 L93.98 266.41 L93.98 264.27 L96.08 264.27 L96.08 261.47 L100.72 261.47 L100.72 257.57 L105.65 257.57 L105.65 252.62 L110.44 252.62 L110.44 247.81 L122.61 247.81 L122.61 242.48 L134.43 242.48 L134.43 238.46 L161.26 238.46 L161.26 234.26 L168.72 234.26 L168.72 231.34 L175.68 231.34 L175.68 228.33 L190.33 228.33 L190.33 225.72 L211.43 225.72 L211.43 221.89 L231.07 221.89 L231.07 219.2 L231.07 219.2" stroke="#a8264e" stroke-width="1.2" fill="none"/>
<path d="M161.6 247.6 L168 247.6" stroke="#a8264e" stroke-width="1.1" fill="none" />
<text x="171.2" y="250.5" font-size="8" text-anchor="start" fill="#2e2e2e" font-weight="normal"  stroke="#2e2e2e" stroke-width="0.12">High-risk (n=74)</text>
<path d="M161.6 258.2 L168 258.2" stroke="#2e3670" stroke-width="1.1" fill="none" />
<text x="171.2" y="261.1" font-size="8" text-anchor="start" fill="#2e2e2e" font-weight="normal"  stroke="#2e2e2e" stroke-width="0.12">Intermediate-2 (n=61)</text>
<path d="M161.6 268.8 L168 268.8" stroke="#34597f" stroke-width="1.1" fill="none" />
<text x="171.2" y="271.7" font-size="8" text-anchor="start" fill="#2e2e2e" font-weight="normal"  stroke="#2e2e2e" stroke-width="0.12">Intermediate-1 (n=62)</text>
<path d="M161.6 279.4 L168 279.4" stroke="#c4c4c4" stroke-width="1.1" fill="none" />
<text x="171.2" y="282.3" font-size="8" text-anchor="start" fill="#2e2e2e" font-weight="normal"  stroke="#2e2e2e" stroke-width="0.12">Standard risk (n=130)</text>
<text x="176.2" y="307.8" font-size="8.6" text-anchor="start" fill="#2e2e2e" font-weight="normal"  stroke="#2e2e2e" stroke-width="0.12">p=0.98</text>
<path d="M317.2 332.7 L317.2 213.6" stroke="#000" stroke-width="1.4" fill="none" />
<path d="M316.5 332 L493.3 332" stroke="#000" stroke-width="1.4" fill="none" />
<path d="M313.8 332 L317.2 332" stroke="#000" stroke-width="1.2" fill="none" />
<text x="310.1" y="334.8" font-size="8.5" text-anchor="end" fill="#2e2e2e" font-weight="normal"  stroke="#2e2e2e" stroke-width="0.12">0</text>
<path d="M313.8 303.23 L317.2 303.23" stroke="#000" stroke-width="1.2" fill="none" />
<text x="310.1" y="306.03" font-size="8.5" text-anchor="end" fill="#2e2e2e" font-weight="normal"  stroke="#2e2e2e" stroke-width="0.12">25</text>
<path d="M313.8 274.45 L317.2 274.45" stroke="#000" stroke-width="1.2" fill="none" />
<text x="310.1" y="277.25" font-size="8.5" text-anchor="end" fill="#2e2e2e" font-weight="normal"  stroke="#2e2e2e" stroke-width="0.12">50</text>
<path d="M313.8 245.68 L317.2 245.68" stroke="#000" stroke-width="1.2" fill="none" />
<text x="310.1" y="248.48" font-size="8.5" text-anchor="end" fill="#2e2e2e" font-weight="normal"  stroke="#2e2e2e" stroke-width="0.12">75</text>
<path d="M313.8 216.9 L317.2 216.9" stroke="#000" stroke-width="1.2" fill="none" />
<text x="310.1" y="219.7" font-size="8.5" text-anchor="end" fill="#2e2e2e" font-weight="normal"  stroke="#2e2e2e" stroke-width="0.12">100</text>
<path d="M317.2 332 L317.2 335.2" stroke="#000" stroke-width="1.2" fill="none" />
<text x="317.2" y="346.5" font-size="8.5" text-anchor="middle" fill="#2e2e2e" font-weight="normal"  stroke="#2e2e2e" stroke-width="0.12">0</text>
<path d="M360.52 332 L360.52 335.2" stroke="#000" stroke-width="1.2" fill="none" />
<text x="360.52" y="346.5" font-size="8.5" text-anchor="middle" fill="#2e2e2e" font-weight="normal"  stroke="#2e2e2e" stroke-width="0.12">12</text>
<path d="M403.85 332 L403.85 335.2" stroke="#000" stroke-width="1.2" fill="none" />
<text x="403.85" y="346.5" font-size="8.5" text-anchor="middle" fill="#2e2e2e" font-weight="normal"  stroke="#2e2e2e" stroke-width="0.12">24</text>
<path d="M447.18 332 L447.18 335.2" stroke="#000" stroke-width="1.2" fill="none" />
<text x="447.18" y="346.5" font-size="8.5" text-anchor="middle" fill="#2e2e2e" font-weight="normal"  stroke="#2e2e2e" stroke-width="0.12">36</text>
<path d="M490.5 332 L490.5 335.2" stroke="#000" stroke-width="1.2" fill="none" />
<text x="490.5" y="346.5" font-size="8.5" text-anchor="middle" fill="#2e2e2e" font-weight="normal"  stroke="#2e2e2e" stroke-width="0.12">48</text>
<path d="M338.86 332 L338.86 334.4" stroke="#000" stroke-width="1.1" fill="none" />
<path d="M382.19 332 L382.19 334.4" stroke="#000" stroke-width="1.1" fill="none" />
<path d="M425.51 332 L425.51 334.4" stroke="#000" stroke-width="1.1" fill="none" />
<path d="M468.84 332 L468.84 334.4" stroke="#000" stroke-width="1.1" fill="none" />
<path d="M317.9 274.45 L491 274.45" stroke="#6a6a6a" stroke-width="0.9" fill="none" stroke-dasharray="1.2 0.6"/>
<text x="405.25" y="361.3" font-size="10.4" text-anchor="middle" fill="#2a2a2a" font-weight="bold" textLength="23.7" lengthAdjust="spacingAndGlyphs">Months</text>
<text transform="translate(289.5 273.05) rotate(-90)" x="0" y="0" font-size="10" text-anchor="middle" fill="#2a2a2a" stroke="#2a2a2a" stroke-width="0.22" textLength="53" lengthAdjust="spacingAndGlyphs">OS from BP (%)</text>
<path d="M317.2 216.9 L317.92 216.9 L317.92 217.77 L318.46 217.77 L318.46 218.42 L319.01 218.42 L319.01 219.08 L320.09 219.08 L320.09 220.38 L320.81 220.38 L320.81 221.25 L321.71 221.25 L321.71 222.34 L322.44 222.34 L322.44 223.21 L323.16 223.21 L323.16 224.08 L324.06 224.08 L324.06 225.17 L324.78 225.17 L324.78 226.04 L325.68 226.04 L325.68 227.13 L326.59 227.13 L326.59 228.22 L327.67 228.22 L327.67 229.32 L328.75 229.32 L328.75 230.23 L329.48 230.23 L329.48 230.83 L330.2 230.83 L330.2 231.43 L331.46 231.43 L331.46 232.49 L332.18 232.49 L332.18 233.09 L333.45 233.09 L333.45 234.14 L334.53 234.14 L334.53 235.05 L335.07 235.05 L335.07 235.5 L336.34 235.5 L336.34 236.55 L336.88 236.55 L336.88 237 L338.32 237 L338.32 238.21 L339.77 238.21 L339.77 239.41 L340.49 239.41 L340.49 240.02 L341.75 240.02 L341.75 241.07 L342.65 241.07 L342.65 242.12 L343.19 242.12 L343.19 242.75 L344.1 242.75 L344.1 243.8 L344.64 243.8 L344.64 244.43 L345.72 244.43 L345.72 245.69 L346.62 245.69 L346.62 246.74 L347.71 246.74 L347.71 248 L348.25 248 L348.25 248.63 L348.97 248.63 L348.97 249.47 L349.87 249.47 L349.87 250.52 L350.78 250.52 L350.78 251.57 L351.32 251.57 L351.32 252.2 L352.4 252.2 L352.4 253.46 L353.48 253.46 L353.48 254.72 L354.21 254.72 L354.21 255.56 L354.75 255.56 L354.75 256.2 L355.65 256.2 L355.65 257.25 L356.37 257.25 L356.37 258.01 L357.82 258.01 L357.82 259.04 L359.08 259.04 L359.08 259.95 L360.16 259.95 L360.16 260.72 L360.89 260.72 L360.89 261.24 L361.61 261.24 L361.61 261.76 L362.69 261.76 L362.69 262.54 L364.14 262.54 L364.14 263.57 L365.22 263.57 L365.22 264.36 L366.66 264.36 L366.66 265.42 L367.93 265.42 L367.93 266.35 L369.55 266.35 L369.55 267.54 L371 267.54 L371 268.61 L371.9 268.61 L371.9 269.27 L372.62 269.27 L372.62 269.8 L373.34 269.8 L373.34 270.33 L374.06 270.33 L374.06 270.86 L375.69 270.86 L375.69 272.06 L377.31 272.06 L377.31 273.25 L378.76 273.25 L378.76 274.32 L379.48 274.32 L379.48 274.81 L380.92 274.81 L380.92 275.76 L381.83 275.76 L381.83 276.36 L383.63 276.36 L383.63 277.56 L385.08 277.56 L385.08 278.51 L386.7 278.51 L386.7 279.59 L388.14 279.59 L388.14 280.55 L389.41 280.55 L389.41 281.38 L391.21 281.38 L391.21 282.58 L393.02 282.58 L393.02 283.77 L394.82 283.77 L394.82 284.38 L397.17 284.38 L397.17 285.17 L400.24 285.17 L400.24 286.2 L403.13 286.2 L403.13 287.17 L405.47 287.17 L405.47 287.96 L408.36 287.96 L408.36 288.75 L413.24 288.75 L413.24 289.96 L415.94 289.96 L415.94 290.63 L418.29 290.63 L418.29 291.21 L422.26 291.21 L422.26 292.19 L424.97 292.19 L424.97 292.86 L429.66 292.86 L429.66 294.02 L432.37 294.02 L432.37 294.69 L437.07 294.69 L437.07 295.84 L439.95 295.84 L439.95 296.56 L444.65 296.56 L444.65 297.72 L450.24 297.72 L450.24 298.74 L456.92 298.74 L456.92 299.75 L460.89 299.75 L460.89 300.35 L464.5 300.35 L464.5 300.9 L467.39 300.9 L467.39 301.33 L486.89 301.33 L486.89 301.88 L490.5 301.88 L490.5 301.96 L490.5 301.96" stroke="#c4c4c4" stroke-width="1.2" fill="none"/>
<path d="M317.2 216.9 L318.1 216.9 L318.1 219.49 L318.46 219.49 L318.46 220.53 L319.01 220.53 L319.01 222.08 L319.55 222.08 L319.55 223.63 L320.45 223.63 L320.45 226.22 L321.17 226.22 L321.17 228.49 L322.07 228.49 L322.07 231.56 L322.44 231.56 L322.44 232.78 L322.98 232.78 L322.98 234.63 L323.34 234.63 L323.34 235.85 L323.88 235.85 L323.88 237.69 L324.6 237.69 L324.6 240.15 L324.96 240.15 L324.96 241.38 L325.5 241.38 L325.5 243.22 L326.23 243.22 L326.23 245.67 L327.13 245.67 L327.13 247.67 L327.85 247.67 L327.85 249.26 L328.93 249.26 L328.93 251.65 L330.2 251.65 L330.2 254.44 L330.74 254.44 L330.74 255.64 L332.91 255.64 L332.91 258.05 L335.25 258.05 L335.25 260.43 L336.88 260.43 L336.88 262.08 L338.14 262.08 L338.14 263.36 L342.83 263.36 L342.83 266.12 L345.9 266.12 L345.9 267.68 L348.07 267.68 L348.07 268.9 L349.15 268.9 L349.15 270.13 L351.5 270.13 L351.5 272.81 L353.3 272.81 L353.3 274.85 L355.65 274.85 L355.65 277.43 L357.82 277.43 L357.82 279.81 L359.62 279.81 L359.62 281.79 L362.15 281.79 L362.15 284.57 L364.32 284.57 L364.32 286.23 L371 286.23 L371 288.2 L379.48 288.2 L379.48 290.66 L386.34 290.66 L386.34 292.74 L393.56 292.74 L393.56 295.25 L400.42 295.25 L400.42 297.26 L409.45 297.26 L409.45 299.52 L413.96 299.52 L413.96 300.52 L430.21 300.52 L430.21 301.87 L444.83 301.87 L444.83 304.66 L445.01 304.66 L445.01 306.68 L445.19 306.68 L445.19 308.69 L445.37 308.69 L445.37 310.71 L490.5 310.71 L490.5 311.28 L490.5 311.28" stroke="#34597f" stroke-width="1.2" fill="none"/>
<path d="M317.2 216.9 L317.74 216.9 L317.74 218.28 L318.64 218.28 L318.64 220.58 L319.19 220.58 L319.19 221.96 L319.91 221.96 L319.91 223.81 L320.81 223.81 L320.81 226.11 L321.71 226.11 L321.71 228.55 L322.44 228.55 L322.44 230.51 L323.16 230.51 L323.16 232.47 L323.52 232.47 L323.52 233.45 L324.24 233.45 L324.24 235.4 L324.96 235.4 L324.96 237.36 L325.87 237.36 L325.87 239.8 L326.59 239.8 L326.59 241.76 L327.49 241.76 L327.49 244.21 L328.21 244.21 L328.21 245.98 L328.93 245.98 L328.93 247.19 L330.38 247.19 L330.38 249.61 L331.82 249.61 L331.82 252.04 L332.72 252.04 L332.72 253.55 L333.45 253.55 L333.45 254.76 L334.53 254.76 L334.53 256.58 L336.15 256.58 L336.15 258.44 L338.5 258.44 L338.5 260.78 L340.49 260.78 L340.49 262.76 L342.29 262.76 L342.29 264.56 L344.28 264.56 L344.28 266.54 L345.9 266.54 L345.9 268.16 L346.81 268.16 L346.81 269.11 L347.71 269.11 L347.71 270.13 L350.05 270.13 L350.05 272.81 L352.04 272.81 L352.04 275.23 L353.12 275.23 L353.12 276.78 L354.93 276.78 L354.93 279.37 L356.19 279.37 L356.19 281.18 L357.1 281.18 L357.1 282.48 L358.9 282.48 L358.9 285.07 L360.34 285.07 L360.34 287.14 L363.23 287.14 L363.23 289.7 L365.94 289.7 L365.94 291.75 L367.38 291.75 L367.38 292.85 L371.9 292.85 L371.9 294.8 L378.76 294.8 L378.76 297.05 L400.24 297.05 L400.24 299.47 L422.99 299.47 L422.99 300.91 L490.5 300.91 L490.5 301.84 L490.5 301.84" stroke="#2e3670" stroke-width="1.2" fill="none"/>
<path d="M317.2 216.9 L318.1 216.9 L318.1 218.91 L319.01 218.91 L319.01 220.93 L320.27 220.93 L320.27 223.75 L320.99 223.75 L320.99 225.34 L321.71 225.34 L321.71 226.88 L322.25 226.88 L322.25 228.03 L322.8 228.03 L322.8 229.18 L323.34 229.18 L323.34 230.33 L324.06 230.33 L324.06 231.86 L324.96 231.86 L324.96 233.78 L326.41 233.78 L326.41 236.85 L327.49 236.85 L327.49 239.15 L328.39 239.15 L328.39 241.07 L329.29 241.07 L329.29 242.99 L330.38 242.99 L330.38 245.29 L331.28 245.29 L331.28 246.95 L332 246.95 L332 248.23 L333.45 248.23 L333.45 250.79 L334.71 250.79 L334.71 253.03 L335.43 253.03 L335.43 254.31 L336.15 254.31 L336.15 255.59 L336.88 255.59 L336.88 256.87 L338.32 256.87 L338.32 259.55 L339.04 259.55 L339.04 260.91 L340.31 260.91 L340.31 263.28 L341.75 263.28 L341.75 265.99 L342.29 265.99 L342.29 267 L343.19 267 L343.19 268.69 L343.92 268.69 L343.92 270.61 L345 270.61 L345 273.49 L345.72 273.49 L345.72 275.03 L346.62 275.03 L346.62 276.5 L347.53 276.5 L347.53 277.96 L348.25 277.96 L348.25 279.12 L349.69 279.12 L349.69 281.46 L352.22 281.46 L352.22 283.98 L354.21 283.98 L354.21 285.75 L355.47 285.75 L355.47 286.88 L358 286.88 L358 289.14 L360.71 289.14 L360.71 291.55 L363.59 291.55 L363.59 293.77 L365.76 293.77 L365.76 295.41 L369.37 295.41 L369.37 297.89 L373.88 297.89 L373.88 299.97 L378.4 299.97 L378.4 302.05 L383.09 302.05 L383.09 304.04 L395.55 304.04 L395.55 305.39 L403.31 305.39 L403.31 307.2 L411.43 307.2 L411.43 309.62 L428.22 309.62 L428.22 311.89 L431.65 311.89 L431.65 313.53 L490.5 313.53 L490.5 315.2 L490.5 315.2" stroke="#a8264e" stroke-width="1.2" fill="none"/>
<path d="M425 225 L431 225" stroke="#a8264e" stroke-width="1.1" fill="none" />
<text x="433.8" y="227.9" font-size="8" text-anchor="start" fill="#2e2e2e" font-weight="normal"  stroke="#2e2e2e" stroke-width="0.12">High-risk (n=84)</text>
<path d="M425 235.4 L431 235.4" stroke="#2e3670" stroke-width="1.1" fill="none" />
<text x="433.8" y="238.3" font-size="8" text-anchor="start" fill="#2e2e2e" font-weight="normal"  stroke="#2e2e2e" stroke-width="0.12">Intermediate-2 (n=71)</text>
<path d="M425 245.8 L431 245.8" stroke="#34597f" stroke-width="1.1" fill="none" />
<text x="433.8" y="248.7" font-size="8" text-anchor="start" fill="#2e2e2e" font-weight="normal"  stroke="#2e2e2e" stroke-width="0.12">Intermediate-1 (n=75)</text>
<path d="M425 256.2 L431 256.2" stroke="#c4c4c4" stroke-width="1.1" fill="none" />
<text x="433.8" y="259.1" font-size="8" text-anchor="start" fill="#2e2e2e" font-weight="normal"  stroke="#2e2e2e" stroke-width="0.12">Standard risk (n=188)</text>
<path d="M420.5 223.8 L418 223.8 L418 246.2 L420.5 246.2" stroke="#222" stroke-width="1.1" fill="none"/>
<text x="388" y="237.9" font-size="8.3" text-anchor="start" fill="#2e2e2e" font-weight="normal"  stroke="#2e2e2e" stroke-width="0.12">p=0.20</text>
<text x="322.4" y="323.6" font-size="8.6" text-anchor="start" fill="#2e2e2e" font-weight="normal"  stroke="#2e2e2e" stroke-width="0.12">p=0.0046</text>
<path d="M81.5 416.8 L81.5 563.9" stroke="#000" stroke-width="1.4" fill="none" />
<path d="M80.8 563.2 L468.83 563.2" stroke="#000" stroke-width="1.4" fill="none" />
<path d="M78 420.2 L81.5 420.2" stroke="#000" stroke-width="1.2" fill="none" />
<path d="M78 444.2 L81.5 444.2" stroke="#000" stroke-width="1.2" fill="none" />
<path d="M78 468.2 L81.5 468.2" stroke="#000" stroke-width="1.2" fill="none" />
<path d="M78 492.2 L81.5 492.2" stroke="#000" stroke-width="1.2" fill="none" />
<path d="M78 516.2 L81.5 516.2" stroke="#000" stroke-width="1.2" fill="none" />
<path d="M78 540.2 L81.5 540.2" stroke="#000" stroke-width="1.2" fill="none" />
<path d="M81.28 563.2 L81.28 566.4" stroke="#000" stroke-width="1.2" fill="none" />
<text x="81.58" y="578.2" font-size="8" text-anchor="middle" fill="#2e2e2e" font-weight="normal"  stroke="#2e2e2e" stroke-width="0.12">-18</text>
<path d="M121.72 563.2 L121.72 566.4" stroke="#000" stroke-width="1.2" fill="none" />
<text x="122.02" y="578.2" font-size="8" text-anchor="middle" fill="#2e2e2e" font-weight="normal"  stroke="#2e2e2e" stroke-width="0.12">-12</text>
<path d="M162.16 563.2 L162.16 566.4" stroke="#000" stroke-width="1.2" fill="none" />
<text x="162.46" y="578.2" font-size="8" text-anchor="middle" fill="#2e2e2e" font-weight="normal"  stroke="#2e2e2e" stroke-width="0.12">-6</text>
<path d="M202.6 563.2 L202.6 566.4" stroke="#000" stroke-width="1.2" fill="none" />
<text x="202.9" y="578.2" font-size="8" text-anchor="middle" fill="#2e2e2e" font-weight="normal"  stroke="#2e2e2e" stroke-width="0.12">0</text>
<path d="M243.04 563.2 L243.04 566.4" stroke="#000" stroke-width="1.2" fill="none" />
<text x="243.34" y="578.2" font-size="8" text-anchor="middle" fill="#2e2e2e" font-weight="normal"  stroke="#2e2e2e" stroke-width="0.12">6</text>
<path d="M283.48 563.2 L283.48 566.4" stroke="#000" stroke-width="1.2" fill="none" />
<text x="283.78" y="578.2" font-size="8" text-anchor="middle" fill="#2e2e2e" font-weight="normal"  stroke="#2e2e2e" stroke-width="0.12">12</text>
<path d="M323.92 563.2 L323.92 566.4" stroke="#000" stroke-width="1.2" fill="none" />
<text x="324.22" y="578.2" font-size="8" text-anchor="middle" fill="#2e2e2e" font-weight="normal"  stroke="#2e2e2e" stroke-width="0.12">18</text>
<path d="M364.36 563.2 L364.36 566.4" stroke="#000" stroke-width="1.2" fill="none" />
<text x="364.66" y="578.2" font-size="8" text-anchor="middle" fill="#2e2e2e" font-weight="normal"  stroke="#2e2e2e" stroke-width="0.12">24</text>
<path d="M404.8 563.2 L404.8 566.4" stroke="#000" stroke-width="1.2" fill="none" />
<text x="405.1" y="578.2" font-size="8" text-anchor="middle" fill="#2e2e2e" font-weight="normal"  stroke="#2e2e2e" stroke-width="0.12">30</text>
<path d="M445.24 563.2 L445.24 566.4" stroke="#000" stroke-width="1.2" fill="none" />
<text x="445.54" y="578.2" font-size="8" text-anchor="middle" fill="#2e2e2e" font-weight="normal"  stroke="#2e2e2e" stroke-width="0.12">36</text>
<text x="277.3" y="592.6" font-size="10.4" text-anchor="middle" fill="#2a2a2a" font-weight="bold" textLength="20.2" lengthAdjust="spacingAndGlyphs">Months</text>
<rect x="101.5" y="424.9" width="101.1" height="14.2" fill="#5ea3dd"/>
<rect x="202.6" y="424.9" width="101.77" height="14.2" fill="#e0901e"/>
<rect x="304.37" y="424.9" width="41.45" height="14.2" fill="#4b5163"/>
<text x="152.05" y="434.8" font-size="7.8" text-anchor="middle" fill="#e8f2fb" font-weight="normal" stroke="none">Interval 1</text>
<text x="253.49" y="434.8" font-size="7.8" text-anchor="middle" fill="#fbeedd" font-weight="normal" stroke="none">Interval 2</text>
<text x="325.1" y="434.8" font-size="7.8" text-anchor="middle" fill="#e8e9ec" font-weight="normal" stroke="none">Interval 3</text>
<rect x="92.06" y="472.8" width="110.54" height="14.2" fill="#5ea3dd"/>
<rect x="202.6" y="472.8" width="12.81" height="14.2" fill="#e0901e"/>
<rect x="215.41" y="472.8" width="64.03" height="14.2" fill="#4b5163"/>
<text x="147.33" y="482.7" font-size="7.8" text-anchor="middle" fill="#fff" font-weight="normal" stroke="none">16.4</text>
<text x="209" y="482.7" font-size="7.8" text-anchor="middle" fill="#fff" font-weight="normal" stroke="none">1.9</text>
<text x="247.42" y="482.7" font-size="7.8" text-anchor="middle" fill="#fff" font-weight="normal" stroke="none">9.5</text>
<rect x="104.2" y="496.7" width="98.4" height="14.2" fill="#5ea3dd"/>
<rect x="202.6" y="496.7" width="129.41" height="14.2" fill="#e0901e"/>
<rect x="332.01" y="496.7" width="53.92" height="14.2" fill="#4b5163"/>
<text x="153.4" y="506.6" font-size="7.8" text-anchor="middle" fill="#fff" font-weight="normal" stroke="none">14.6</text>
<text x="267.3" y="506.6" font-size="7.8" text-anchor="middle" fill="#fff" font-weight="normal" stroke="none">19.2</text>
<text x="358.97" y="506.6" font-size="7.8" text-anchor="middle" fill="#fff" font-weight="normal" stroke="none">7.8</text>
<rect x="133.18" y="520.5" width="69.42" height="14.2" fill="#5ea3dd"/>
<rect x="202.6" y="520.5" width="149.63" height="14.2" fill="#e0901e"/>
<rect x="352.23" y="520.5" width="68.75" height="14.2" fill="#4b5163"/>
<text x="167.89" y="530.4" font-size="7.8" text-anchor="middle" fill="#fff" font-weight="normal" stroke="none">10.3</text>
<text x="386.6" y="530.4" font-size="7.8" text-anchor="middle" fill="#fff" font-weight="normal" stroke="none">10.2</text>
<rect x="101.5" y="544.4" width="250.73" height="14.2" fill="#b06a20"/>
<rect x="352.23" y="544.4" width="114.58" height="14.2" fill="#4b5163"/>
<text x="409.52" y="554.3" font-size="7.8" text-anchor="middle" fill="#fff" font-weight="normal" stroke="none">17.0</text>
<path d="M304.3 520 L308.6 520 L304.2 535.2 L299.7 535.2 Z" fill="#fff"/>
<path d="M304.3 543.9 L308.6 543.9 L304.2 559.1 L299.7 559.1 Z" fill="#fff"/>
<text x="74.5" y="482.3" font-size="8.4" text-anchor="end" fill="#2e2e2e" font-weight="normal"  stroke="#2e2e2e" stroke-width="0.12">High risk</text>
<text x="74.5" y="506.2" font-size="8.4" text-anchor="end" fill="#2e2e2e" font-weight="normal"  stroke="#2e2e2e" stroke-width="0.12">Intermediate-2</text>
<text x="74.5" y="530.1" font-size="8.4" text-anchor="end" fill="#2e2e2e" font-weight="normal"  stroke="#2e2e2e" stroke-width="0.12">Intermediate-1</text>
<text x="74.5" y="554" font-size="8.4" text-anchor="end" fill="#2e2e2e" font-weight="normal"  stroke="#2e2e2e" stroke-width="0.12">Standard Risk</text>
<text x="101.5" y="406.1" font-size="8.1" text-anchor="middle" fill="#222" font-weight="normal"  stroke="#222" stroke-width="0.12">CML dx</text>
<path d="M101.5 407.3 L101.5 416" stroke="#363c78" stroke-width="1.2" fill="none" />
<path d="M98.5 411.5 L101.5 418.8 L104.5 411.5 L101.5 413.2 Z" fill="#363c78"/>
<text x="202.6" y="406.1" font-size="8.1" text-anchor="middle" fill="#222" font-weight="normal"  stroke="#222" stroke-width="0.12">ACA emergence</text>
<path d="M202.6 407.3 L202.6 416" stroke="#363c78" stroke-width="1.2" fill="none" />
<path d="M199.6 411.5 L202.6 418.8 L205.6 411.5 L202.6 413.2 Z" fill="#363c78"/>
<text x="304.37" y="406.1" font-size="8.1" text-anchor="middle" fill="#222" font-weight="normal"  stroke="#222" stroke-width="0.12">Blast crisis</text>
<path d="M304.37 407.3 L304.37 416" stroke="#363c78" stroke-width="1.2" fill="none" />
<path d="M301.37 411.5 L304.37 418.8 L307.37 411.5 L304.37 413.2 Z" fill="#363c78"/>
<path d="M0.75 0 L0.75 603 M0 0.75 L520 0.75 M519.1 0 L519.1 603 M0 601.9 L520 601.9" stroke="#000" stroke-width="1.6" fill="none"/>
</svg></body></html>
